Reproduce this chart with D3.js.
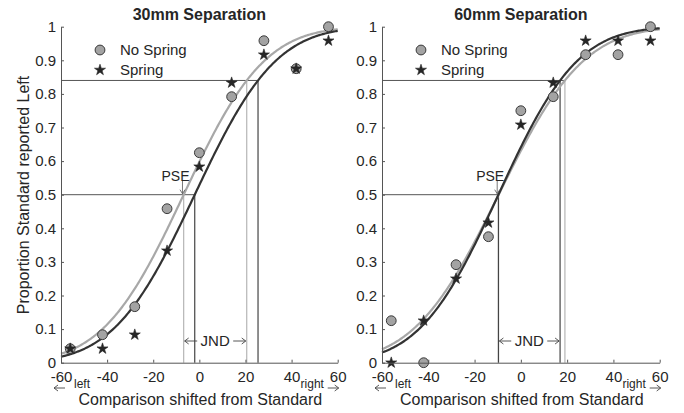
<!DOCTYPE html>
<html><head><meta charset="utf-8">
<script src="https://cdn.jsdelivr.net/npm/d3@7"></script>
<style>
body{margin:0;background:#fff}
svg{display:block}
text{font-family:"Liberation Sans",Arial,sans-serif;fill:#262626}
</style>
</head><body>
<svg id="chart" width="684" height="413"></svg>
<script>
// ---- data ----
const xPositions = [-56, -42, -28, -14, 0, 14, 28, 42, 56];
const panelTitles = ["30mm Separation", "60mm Separation"];
const noSpring30 = [0.0417, 0.0833, 0.1667, 0.4583, 0.625, 0.7917, 0.9583, 0.875, 1.0];
const spring30   = [0.0417, 0.0417, 0.0833, 0.3333, 0.5833, 0.8333, 0.9167, 0.875, 0.9583];
const noSpring60 = [0.125, 0, 0.2917, 0.375, 0.75, 0.7917, 0.9167, 0.9167, 1.0];
const spring60   = [0, 0.125, 0.25, 0.4167, 0.7083, 0.8333, 0.9583, 0.9583, 0.9583];
// fitted cumulative-normal parameters per panel: [PSE, sigma]
const fitNoSpring = [[-6.8, 27.5], [-9.6, 28.8]];
const fitSpring   = [[-2.0, 27.6], [-9.7, 26.8]];
const xTicks = [-60, -40, -20, 0, 20, 40, 60];
const xTickLabels = ["-60", "-40", "-20", "0", "20", "40", "60"];
const yTicks = [0, 0.1, 0.2, 0.3, 0.4, 0.5, 0.6, 0.7, 0.8, 0.9, 1];
const yTickLabels = ["0", "0.1", "0.2", "0.3", "0.4", "0.5", "0.6", "0.7", "0.8", "0.9", "1"];
const seriesNames = ["No Spring", "Spring"];
const jndLevel = 0.84;

// ---- layout ----
const panels = [
  {x0: 61, x1: 337.7, noSpring: noSpring30, spring: spring30},
  {x0: 382, x1: 659.7, noSpring: noSpring60, spring: spring60}
];
const yTop = 26.7, yBot = 362.7;
const lightCol = "#a8a8a8", darkCol = "#333333", axisCol = "#555", refCol = "#555";

function erf(x) {
  const s = Math.sign(x); x = Math.abs(x);
  const t = 1 / (1 + 0.3275911 * x);
  const y = 1 - (((((1.061405429 * t - 1.453152027) * t) + 1.421413741) * t - 0.284496736) * t + 0.254829592) * t * Math.exp(-x * x);
  return s * y;
}
const normCdf = (x, mu, sd) => 0.5 * (1 + erf((x - mu) / (sd * Math.SQRT2)));
function normInv(p, mu, sd) { // bisection
  let lo = -200, hi = 200;
  for (let i = 0; i < 80; i++) { const m = (lo + hi) / 2; if (normCdf(m, mu, sd) < p) lo = m; else hi = m; }
  return (lo + hi) / 2;
}

const svg = d3.select("#chart");

function arrowH(g, xa, xb, y, dir) { // dir: -1 head at left, +1 head at right
  g.append("line").attr("x1", xa).attr("x2", xb).attr("y1", y).attr("y2", y)
    .attr("stroke", "#444").attr("stroke-width", 0.9);
  const hx = dir < 0 ? xa : xb;
  g.append("path").attr("d", `M${hx - dir * 4},${y - 3}L${hx},${y}L${hx - dir * 4},${y + 3}`)
    .attr("fill", "none").attr("stroke", "#444").attr("stroke-width", 0.9);
}

panels.forEach((p, pi) => {
  const g = svg.append("g");
  const x = d3.scaleLinear().domain([-60, 60]).range([p.x0, p.x1]);
  const y = d3.scaleLinear().domain([0, 1]).range([yBot, yTop]);

  const fits = [fitNoSpring[pi], fitSpring[pi]];
  const cols = [lightCol, darkCol];
  const pse = fits.map(f => normInv(0.5, f[0], f[1]));
  const jnd = fits.map(f => normInv(jndLevel, f[0], f[1]));

  // reference lines
  g.append("line").attr("x1", x(-60)).attr("x2", x(d3.max(pse))).attr("y1", y(0.5)).attr("y2", y(0.5))
    .attr("stroke", refCol).attr("stroke-width", 1);
  g.append("line").attr("x1", x(-60)).attr("x2", x(d3.max(jnd))).attr("y1", y(jndLevel)).attr("y2", y(jndLevel))
    .attr("stroke", refCol).attr("stroke-width", 1);
  [0, 1].forEach(i => {
    g.append("line").attr("x1", x(pse[i])).attr("x2", x(pse[i])).attr("y1", y(0)).attr("y2", y(0.5))
      .attr("stroke", i === 0 ? "#b5b5b5" : "#444").attr("stroke-width", 1.2);
    g.append("line").attr("x1", x(jnd[i])).attr("x2", x(jnd[i])).attr("y1", y(0)).attr("y2", y(jndLevel))
      .attr("stroke", i === 0 ? "#b5b5b5" : "#444").attr("stroke-width", 1.2);
  });

  // fitted curves
  const xs = d3.range(-60, 60.01, 0.5);
  const line = d3.line().x(d => x(d[0])).y(d => y(d[1]));
  fits.forEach((f, i) => {
    g.append("path").datum(xs.map(v => [v, normCdf(v, f[0], f[1])]))
      .attr("d", line).attr("fill", "none").attr("stroke", cols[i]).attr("stroke-width", 2.2);
  });

  // markers
  g.selectAll("circle.ns").data(p.noSpring).join("circle").attr("class", "ns")
    .attr("cx", (d, i) => x(xPositions[i])).attr("cy", d => y(d)).attr("r", 4.9)
    .attr("fill", "#a3a3a3").attr("stroke", "#3a3a3a").attr("stroke-width", 1);
  const star = d3.symbol().type(d3.symbolStar).size(38);
  g.selectAll("path.sp").data(p.spring).join("path").attr("class", "sp")
    .attr("d", star).attr("transform", (d, i) => `translate(${x(xPositions[i])},${y(d)})`)
    .attr("fill", "#262626").attr("stroke", "#262626").attr("stroke-width", 0.6);

  // axes
  const yAxis = d3.axisLeft(y).tickValues(yTicks).tickFormat((d, i) => yTickLabels[i]).tickSizeInner(-3).tickSizeOuter(0).tickPadding(5);
  const ya = g.append("g").attr("transform", `translate(${p.x0},0)`).call(yAxis);
  const xAxis = d3.axisBottom(x).tickValues(xTicks).tickSizeInner(-3).tickSizeOuter(0).tickPadding(9)
    .tickFormat((d, i) => xTickLabels[i]);
  const xa = g.append("g").attr("transform", `translate(0,${yBot})`).call(xAxis);
  [ya, xa].forEach(a => {
    a.select(".domain").attr("stroke", axisCol).attr("stroke-width", 1);
    a.selectAll(".tick line").attr("stroke", axisCol);
    a.selectAll(".tick text").attr("font-size", 15).attr("fill", "#262626")
      .attr("font-family", '"Liberation Sans",Arial,sans-serif');
  });

  // end annotations
  g.append("text").attr("x", x(-60) + 13).attr("y", 388).attr("font-size", 12).text("left");
  g.append("text").attr("x", x(40) + 9).attr("y", 388).attr("font-size", 12).text("right");
  arrowH(g, x(-60) - 7, x(-60) + 4, 388, -1);
  arrowH(g, x(60) - 10, x(60) + 1, 388, 1);

  // PSE annotation
  const pseX = x(d3.min(pse)) - 1.2;
  g.append("text").attr("x", pseX - 7).attr("y", 181).attr("text-anchor", "middle").attr("font-size", 14).text("PSE");
  g.append("line").attr("x1", pseX).attr("x2", pseX).attr("y1", 181).attr("y2", y(0.5) - 1)
    .attr("stroke", "#555").attr("stroke-width", 0.8);
  g.append("path").attr("d", `M${pseX - 2.5},${y(0.5) - 5}L${pseX},${y(0.5) - 1}L${pseX + 2.5},${y(0.5) - 5}`)
    .attr("fill", "none").attr("stroke", "#555").attr("stroke-width", 0.8);

  // JND annotation
  const ja = x(d3.min(pse)), jb = x(d3.min(jnd)), jy = 341;
  const jc = (ja + jb) / 2;
  g.append("text").attr("x", jc).attr("y", jy).attr("dy", "0.35em").attr("text-anchor", "middle").attr("font-size", 15).text("JND");
  arrowH(g, ja + 1, jc - 18, jy, -1);
  arrowH(g, jc + 18, jb - 1, jy, 1);

  // legend
  const lx = pi === 0 ? 100 : 421;
  g.append("circle").attr("cx", lx).attr("cy", 50).attr("r", 4.9).attr("fill", "#a3a3a3").attr("stroke", "#3a3a3a");
  g.append("path").attr("d", star).attr("transform", `translate(${lx},70)`).attr("fill", "#262626").attr("stroke", "#262626").attr("stroke-width", 0.6);
  g.append("text").attr("x", lx + 20).attr("y", 50).attr("dy", "0.35em").attr("font-size", 15).text(seriesNames[0]);
  g.append("text").attr("x", lx + 20).attr("y", 70).attr("dy", "0.35em").attr("font-size", 15).text(seriesNames[1]);

  // titles and labels
  g.append("text").attr("x", (p.x0 + p.x1) / 2).attr("y", 20).attr("text-anchor", "middle")
    .attr("font-size", 16).attr("font-weight", "bold").attr("fill", "#111").text(panelTitles[pi]);
  g.append("text").attr("x", (p.x0 + p.x1) / 2 + 1).attr("y", 405).attr("text-anchor", "middle")
    .attr("font-size", 16).text("Comparison shifted from Standard");
});

svg.append("text").attr("transform", "translate(23,195) rotate(-90)").attr("dy", "0.35em")
  .attr("text-anchor", "middle").attr("font-size", 16).text("Proportion Standard reported Left");
</script>
</body></html>
